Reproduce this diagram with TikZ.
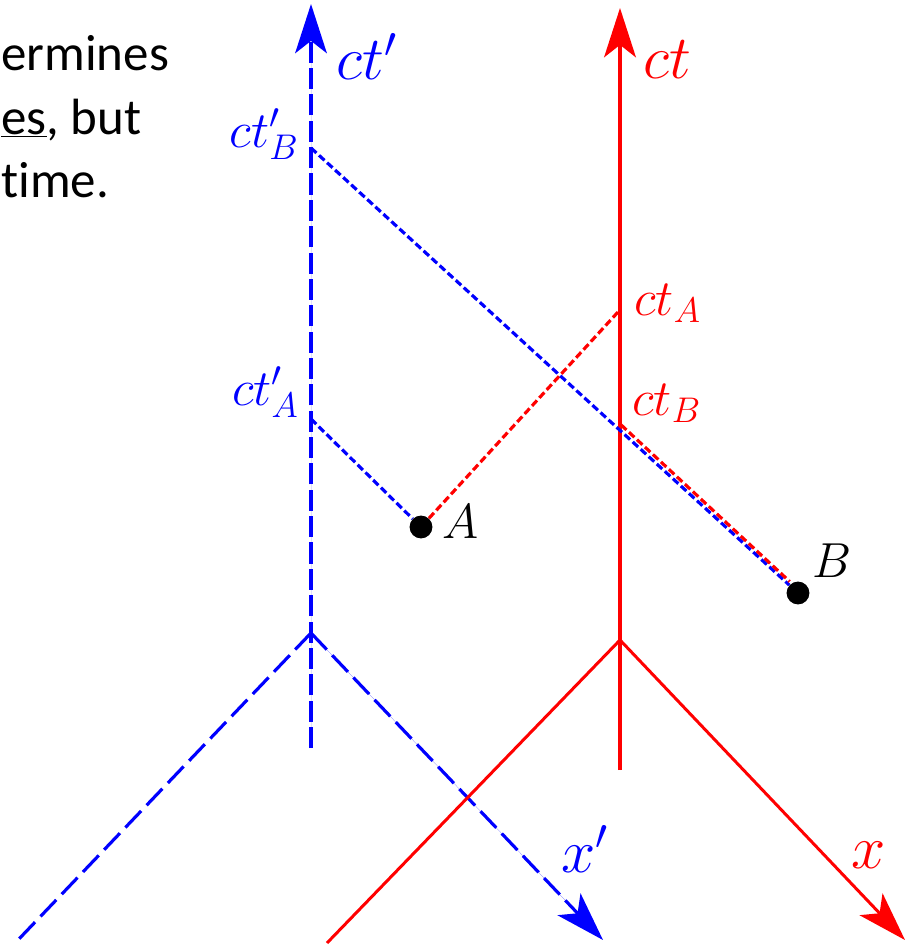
\documentclass[tikz,border=0pt]{standalone}
\usepackage{fix-cm}
\usepackage[no-math]{fontspec}
\newfontfamily\slidefont[Ligatures=NoCommon]{Carlito}
\usetikzlibrary{positioning, arrows.meta}
\definecolor{cRest}{HTML}{FF0000}
\definecolor{cMove}{HTML}{0000FF}
\tikzset{
  bigtip/.style={
    -{Stealth[length=28pt, width=18pt, inset=7pt]}
  },
  restaxis/.style={
    draw=cRest, line width=2.4pt
  },
  restcone/.style={
    draw=cRest, line width=1.7pt
  },
  moveaxis/.style={
    draw=cMove, line width=1.9pt, dash pattern=on 12pt off 3pt
  },
  movecone/.style={
    draw=cMove, line width=1.8pt, dash pattern=on 13pt off 4.5pt
  },
  projline/.style={
    draw=#1, line width=1.8pt, dash pattern=on 4.2pt off 2pt
  },
  evt/.style={
    circle, fill=black, inner sep=0pt, minimum size=13pt
  },
  axislbl/.style={
    font=\fontsize{35}{40}\selectfont, text=#1, inner sep=0pt, anchor=base west
  },
  ticklbl/.style={
    font=\fontsize{29}{33}\selectfont, text=#1, inner sep=0pt
  },
  evtlbl/.style={
    font=\fontsize{28}{32}\selectfont, inner sep=0pt, anchor=base west
  },
  slidetxt/.style={
    font=\slidefont\fontsize{29}{35}\selectfont, inner sep=0pt, anchor=base west
  },
}

\begin{document}
\begin{tikzpicture}[x=0.02cm, y=-0.02cm]
\useasboundingbox (0,0) rectangle (907,946);

% slide text at the left edge
\node[slidetxt] (line1) at (1,71) {ermines};
\node[slidetxt] (line2) at (1,134) {\underline{es}, but};
\node[slidetxt] (line3) at (1,197) {time.};

% moving frame (blue)
\coordinate (oM) at (311,633);
\coordinate (ctMtop) at (311,4);
\coordinate (ctMbot) at (311,748);
\coordinate (xMtip) at (603,940);
\coordinate (xMleft) at (18,940);
\draw[moveaxis, bigtip, fill=cMove] (ctMbot) -- (ctMtop);
\draw[movecone] (oM) -- (xMleft);
\draw[movecone, bigtip, fill=cMove] (oM) -- (xMtip);
\node[axislbl=cMove] (ctMlbl) at (336,80) {$ct'$};
\node[axislbl=cMove] (xMlbl) at (561,872) {$x'$};

% rest frame (red)
\coordinate (oR) at (620,640);
\coordinate (ctRtop) at (620,8);
\coordinate (ctRbot) at (620,770);
\coordinate (xRtip) at (905,940);
\coordinate (xRleft) at (327,943);
\draw[restaxis, bigtip, fill=cRest] (ctRbot) -- (ctRtop);
\draw[restcone] (oR) -- (xRleft);
\draw[restcone, bigtip, fill=cRest] (oR) -- (xRtip);
\node[axislbl=cRest] (ctRlbl) at (643,79) {$ct$};
\node[axislbl=cRest] (xRlbl) at (851,868) {$x$};

% events
\node[evt] (A) at (421,527) {};
\node[evt] (B) at (798,593) {};
\node[evtlbl] (Albl) at (442,538) {$A$};
\node[evtlbl] (Blbl) at (812,577) {$B$};

% time stamps on both axes
\coordinate (tMA) at (311,419);
\coordinate (tMB) at (311,148);
\coordinate (tRA) at (618,312);
\coordinate (tRB) at (621,428);
\node[ticklbl=cMove, anchor=base east] (tMAlbl) at (299,405) {$ct'_A$};
\node[ticklbl=cMove, anchor=base east] (tMBlbl) at (299,147) {$ct'_B$};
\node[ticklbl=cRest, anchor=base west] (tRAlbl) at (634,315) {$ct_A$};
\node[ticklbl=cRest, anchor=base west] (tRBlbl) at (632,415) {$ct_B$};

% projections
\draw[projline=cMove] (tMA) -- (A);
\draw[projline=cRest] (A) -- (tRA);
\draw[projline=cMove] (tMB) -- (B);
\draw[projline=cRest] ([yshift=1.8pt]tRB) -- ([yshift=1.8pt]B.north west);

\end{tikzpicture}
\end{document}
